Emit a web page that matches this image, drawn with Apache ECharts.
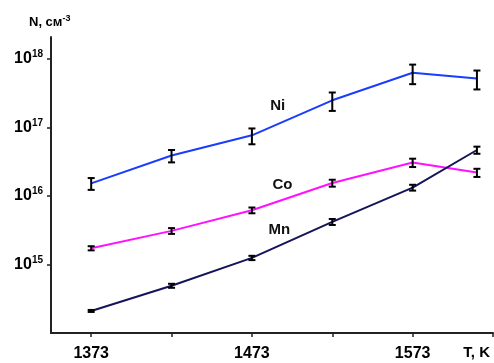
<!DOCTYPE html>
<html><head><meta charset="utf-8">
<script src="https://cdn.jsdelivr.net/npm/echarts@6/dist/echarts.min.js"></script>
<style>html,body{margin:0;padding:0;background:#fff}#c{width:494px;height:363px}</style>
</head><body><div id="c"></div>
<script>
var temps = [1373, 1423, 1473, 1523, 1573, 1613];
var niVals = [1.53e16, 3.9e16, 7.7e16, 2.5e17, 6.3e17, 5.2e17];
var niErr  = [3.0e15, 0.8e16, 2.0e16, 0.75e17, 2.0e17, 1.6e17];
var coVals = [1.73e15, 3.1e15, 6.2e15, 1.55e16, 3.08e16, 2.2e16];
var coErr  = [1.2e14, 3.0e14, 6.0e14, 1.8e15, 4.3e15, 3.0e15];
var mnVals = [2.1e14, 4.9e14, 1.25e15, 4.2e15, 1.33e16, 4.7e16];
var mnErr  = [0.7e13, 3.3e13, 0.9e14, 4.2e14, 1.3e15, 5.6e15];
var xTicks = [1373, 1423, 1473, 1523, 1573, 1623];
var xLabels = [1373, 1473, 1573];
var yTicks = [1e15, 1e16, 1e17, 1e18];
var seriesNames = ['Ni', 'Co', 'Mn'];
var labelPos = [[1489, 2.05e17], [1492, 1.48e16], [1490, 3.2e15]];

var colors = ['#1a3cff', '#ff10ff', '#14145a'];
var FONT = '"Liberation Sans", Arial, sans-serif';

function pairs(vals){ return temps.map(function(t,i){ return [t, vals[i]]; }); }
function errData(vals, err){ return temps.map(function(t,i){ return [t, vals[i]-err[i], vals[i]+err[i]]; }); }

function errRender(params, api){
  var x = api.value(0);
  var lo = api.coord([x, api.value(1)]);
  var hi = api.coord([x, api.value(2)]);
  var w = 3.5;
  var st = {stroke:'#000', lineWidth:2};
  return {type:'group', children:[
    {type:'line', shape:{x1:lo[0], y1:lo[1], x2:hi[0], y2:hi[1]}, style:st},
    {type:'line', shape:{x1:lo[0]-w, y1:lo[1], x2:lo[0]+w, y2:lo[1]}, style:st},
    {type:'line', shape:{x1:hi[0]-w, y1:hi[1], x2:hi[0]+w, y2:hi[1]}, style:st}
  ]};
}

var allVals = [niVals, coVals, mnVals];
var allErr = [niErr, coErr, mnErr];
var series = [];
seriesNames.forEach(function(n, i){
  series.push({
    name:n, type:'line', data:pairs(allVals[i]), symbol:'none',
    lineStyle:{color:colors[i], width:2}, z:2,
    markPoint:{
      symbol:'circle', symbolSize:0,
      data:[{coord:labelPos[i], value:n}],
      label:{show:true, formatter:n, color:'#111', fontFamily:FONT, fontWeight:'bold', fontSize:15, position:'inside'}
    }
  });
  series.push({
    type:'custom', data:errData(allVals[i], allErr[i]), renderItem:errRender, z:3,
    encode:{x:0, y:[1,2]}
  });
});

var chart = echarts.init(document.getElementById('c'), null, {renderer:'canvas'});
chart.setOption({
  animation:false,
  backgroundColor:'#fff',
  grid:{left:51, right:1, top:37, bottom:30, containLabel:false},
  xAxis:{
    type:'value', min:1348, max:1623,
    axisLine:{show:true, lineStyle:{color:'#222', width:2}},
    axisTick:{show:true, customValues:xTicks, length:4, inside:false, lineStyle:{color:'#222', width:1.5}},
    axisLabel:{show:true, customValues:xLabels, margin:13, color:'#000', fontFamily:FONT, fontWeight:'bold', fontSize:16,
      formatter:function(v){ return String(v); }},
    splitLine:{show:false}
  },
  yAxis:{
    type:'log', logBase:10, min:1e14, max:2.1e18,
    axisLine:{show:true, lineStyle:{color:'#222', width:2}},
    axisTick:{show:true, customValues:yTicks, length:4, lineStyle:{color:'#222', width:1.5}},
    axisLabel:{show:true, customValues:yTicks, margin:8, color:'#000',
      formatter:function(v){ return '{b|10}{s|' + Math.round(Math.log10(v)) + '}'; },
      rich:{
        b:{fontFamily:FONT, fontWeight:'bold', fontSize:16, color:'#000'},
        s:{fontFamily:FONT, fontWeight:'bold', fontSize:10, color:'#000', padding:[0,0,9,0]}
      }
    },
    splitLine:{show:false}
  },
  graphic:[
    {type:'text', left:29, top:14, style:{text:'{b|N, см}{s|-3}', rich:{
      b:{fontFamily:FONT, fontWeight:'bold', fontSize:13, fill:'#000'},
      s:{fontFamily:FONT, fontWeight:'bold', fontSize:9, fill:'#000', padding:[0,0,8,0]}
    }}},
    {type:'text', right:4, top:345, style:{text:'T, K', fontFamily:FONT, fontWeight:'bold', fontSize:15, fill:'#000'}}
  ],
  series:series
});
</script></body></html>
